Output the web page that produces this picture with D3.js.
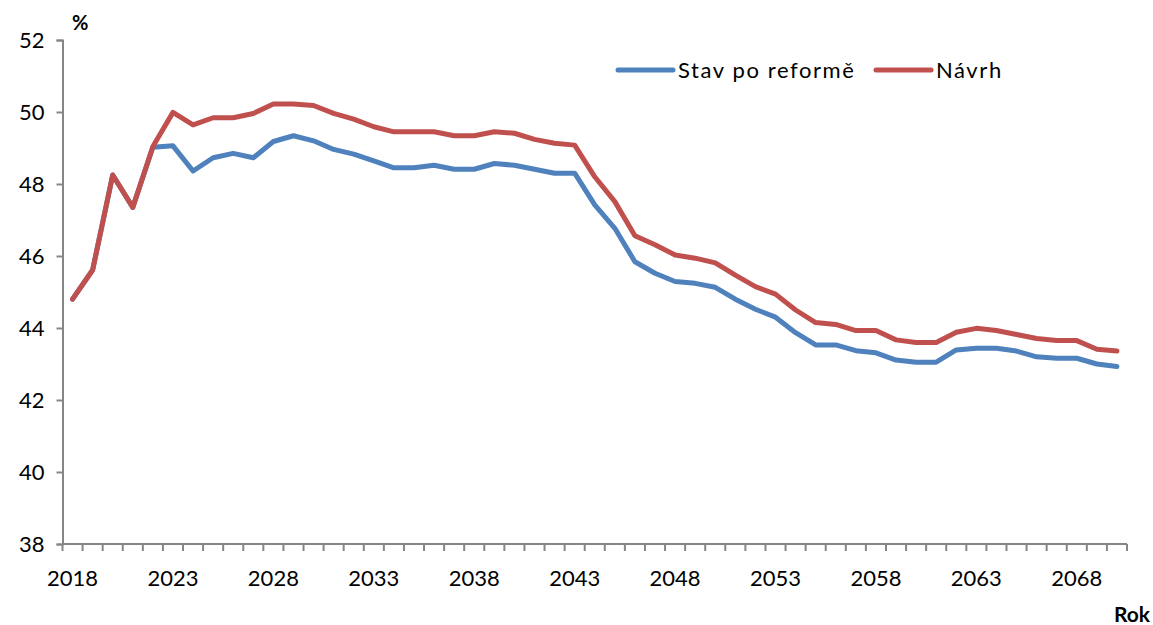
<!DOCTYPE html>
<html>
<head>
<meta charset="utf-8">
<script src="https://cdn.jsdelivr.net/npm/d3@7"></script>
<style>
  html, body { margin: 0; padding: 0; background: #fff; }
  svg { display: block; }
  text { font-family: Lato, "Open Sans", "Liberation Sans", sans-serif; fill: #000; }
</style>
</head>
<body>
<svg id="chart" width="1153" height="625"></svg>
<script>
const years = d3.range(2018, 2071);
const stavPoReforme = [
  44.80, 45.61, 48.25, 47.35, 49.02, 49.06, 48.36, 48.73, 48.85, 48.73,
  49.18, 49.34, 49.20, 48.96, 48.83, 48.64, 48.45, 48.45, 48.52, 48.41,
  48.41, 48.57, 48.52, 48.41, 48.30, 48.30, 47.42, 46.77, 45.84, 45.52,
  45.29, 45.24, 45.13, 44.80, 44.52, 44.30, 43.87, 43.53, 43.53, 43.37,
  43.31, 43.11, 43.05, 43.05, 43.39, 43.44, 43.44, 43.36, 43.20, 43.16,
  43.16, 43.00, 42.93
];
const navrh = [
  44.80, 45.61, 48.25, 47.35, 49.04, 49.99, 49.64, 49.84, 49.84, 49.96,
  50.22, 50.22, 50.18, 49.96, 49.80, 49.59, 49.45, 49.45, 49.45, 49.34,
  49.34, 49.45, 49.41, 49.24, 49.13, 49.08, 48.20, 47.51, 46.56, 46.31,
  46.03, 45.94, 45.81, 45.47, 45.15, 44.94, 44.50, 44.15, 44.10, 43.93,
  43.93, 43.67, 43.60, 43.60, 43.88, 43.99, 43.93, 43.82, 43.71, 43.65,
  43.65, 43.41, 43.36
];
const yTicks = [38, 40, 42, 44, 46, 48, 50, 52];
const xLabelYears = [2018, 2023, 2028, 2033, 2038, 2043, 2048, 2053, 2058, 2063, 2068];
const seriesNames = ["Stav po reformě", "Návrh"];
const seriesColors = ["#4F81BD", "#C0504D"];
const yUnit = "%";
const xTitle = "Rok";

(function () {
const svg = d3.select("#chart");
const mLeft = 62.5, mRight = 1127, mTop = 40, mBottom = 544;
const axisColor = "#868686";

const x = d3.scaleBand().domain(years).range([mLeft, mRight]).paddingInner(0).paddingOuter(0);
const y = d3.scaleLinear().domain([38, 52]).range([mBottom, mTop]);

// Y axis
const yAxis = d3.axisLeft(y).tickValues(yTicks).tickSize(6).tickPadding(12).tickFormat(d3.format("d"));
const gy = svg.append("g").attr("transform", `translate(${mLeft},0)`).call(yAxis);
gy.select(".domain").attr("stroke", axisColor).attr("stroke-width", 2);
gy.selectAll(".tick line").attr("stroke", axisColor).attr("stroke-width", 2);
gy.selectAll(".tick text").attr("font-size", 22).style("font-family", "Lato, sans-serif").attr("fill", "#000");

// X axis: ticks at category boundaries
const gx = svg.append("g").attr("transform", `translate(0,${mBottom})`);
gx.append("line").attr("x1", mLeft).attr("x2", mRight).attr("y1", 0).attr("y2", 0)
  .attr("stroke", axisColor).attr("stroke-width", 2);
const boundaries = years.map(yr => x(yr)).concat([mRight]);
gx.selectAll("line.tk").data(boundaries).join("line").attr("class", "tk")
  .attr("x1", d => d).attr("x2", d => d).attr("y1", 0).attr("y2", 7)
  .attr("stroke", axisColor).attr("stroke-width", 2);
gx.selectAll("text.lbl").data(xLabelYears).join("text").attr("class", "lbl")
  .attr("x", d => x(d) + x.bandwidth() / 2).attr("y", 42)
  .attr("text-anchor", "middle").attr("font-size", 22).text(d => d);

// Lines
const cx = (d, i) => x(years[i]) + x.bandwidth() / 2;
const line = d3.line().x((d, i) => cx(d, i)).y(d => y(d));
[stavPoReforme, navrh].forEach((s, k) => {
  svg.append("path").datum(s).attr("d", line).attr("fill", "none")
    .attr("stroke", seriesColors[k]).attr("stroke-width", 5)
    .attr("stroke-linejoin", "round").attr("stroke-linecap", "round");
});

// Unit and axis title
svg.append("text").attr("x", 72).attr("y", 30).attr("font-size", 20).attr("font-weight", "bold").text(yUnit);
svg.append("text").attr("x", 1150).attr("y", 622).attr("text-anchor", "end").attr("font-size", 21).attr("font-weight", "bold").text(xTitle);

// Legend
const legendPos = [{lx: 618, tx: 678}, {lx: 876, tx: 936}];
seriesNames.forEach((name, k) => {
  const g = svg.append("g");
  g.append("line").attr("x1", legendPos[k].lx).attr("x2", legendPos[k].lx + 55)
    .attr("y1", 70).attr("y2", 70).attr("stroke", seriesColors[k]).attr("stroke-width", 5)
    .attr("stroke-linecap", "round");
  g.append("text").attr("x", legendPos[k].tx).attr("y", 78).attr("font-size", 22)
    .attr("letter-spacing", 1.6).text(name);
});
})();
</script>
</body>
</html>
